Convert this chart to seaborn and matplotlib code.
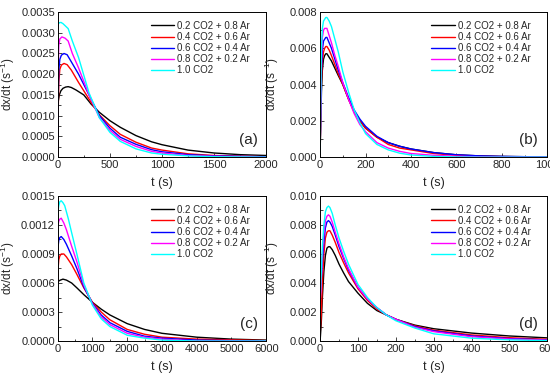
import matplotlib
matplotlib.use("Agg")
import matplotlib.pyplot as plt
import seaborn as sns
from matplotlib.ticker import AutoMinorLocator

sns.set_style("ticks")
plt.rcParams["font.family"] = ["Liberation Sans", "DejaVu Sans"]
plt.rcParams["mathtext.fontset"] = "custom"
plt.rcParams["mathtext.rm"] = "Liberation Sans"

labels = ["0.2 CO2 + 0.8 Ar", "0.4 CO2 + 0.6 Ar", "0.6 CO2 + 0.4 Ar",
          "0.8 CO2 + 0.2 Ar", "1.0 CO2"]
colors = ["black", "red", "blue", "magenta", "cyan"]

# panel (a)
ta_black = [0, 5, 15, 30, 50, 75, 100, 130, 175, 250, 320, 400, 500, 600, 750, 900, 1000, 1250, 1500, 1750, 2000]
ya_black = [0.0012, 0.00135, 0.0015, 0.0016, 0.00166, 0.00169, 0.0017, 0.00168, 0.00162, 0.0015, 0.00128,
            0.00108, 0.00088, 0.00072, 0.00052, 0.00037, 0.0003, 0.00017, 0.0001, 0.00006, 0.00004]
ta_red = [0, 5, 10, 20, 35, 60, 90, 130, 200, 300, 400, 500, 600, 750, 900, 1000, 1250, 1500, 2000]
ya_red = [0.0, 0.0012, 0.0018, 0.00212, 0.00222, 0.00226, 0.00223, 0.0021, 0.0018, 0.0014, 0.00102,
          0.00076, 0.00055, 0.00036, 0.00022, 0.00017, 0.00008, 0.00004, 0.00001]
ta_blue = [0, 5, 10, 20, 35, 60, 90, 130, 200, 300, 400, 500, 600, 750, 900, 1000, 1250, 1500, 2000]
ya_blue = [0.0002, 0.0015, 0.0021, 0.00236, 0.00246, 0.0025, 0.00247, 0.0023, 0.002, 0.0015, 0.001,
           0.0007, 0.00048, 0.00031, 0.00018, 0.00013, 0.00006, 0.00003, 0.00001]
ta_mag = [0, 5, 10, 20, 40, 70, 100, 140, 200, 300, 400, 500, 600, 750, 900, 1000, 1250, 1500, 2000]
ya_mag = [0.0, 0.0022, 0.0027, 0.00285, 0.0029, 0.00287, 0.0028, 0.0025, 0.00215, 0.0015, 0.00095,
          0.00065, 0.00043, 0.00026, 0.00014, 0.0001, 0.00004, 0.00002, 0.0]
ta_cyan = [0, 15, 30, 50, 75, 100, 140, 200, 300, 400, 500, 600, 750, 900, 1000, 1250, 1500, 2000]
ya_cyan = [0.0032, 0.00324, 0.00325, 0.00322, 0.00316, 0.0031, 0.0028, 0.0024, 0.00155, 0.00095, 0.0006,
           0.00038, 0.0002, 0.0001, 0.00007, 0.00003, 0.00001, 0.0]

# panel (b)
tb = [0, 3, 6, 10, 15, 20, 25, 30, 40, 50, 65, 80, 100, 125, 150, 175, 200, 250, 300, 350, 400, 500, 600, 700, 800, 1000]
yb_black = [0.0002, 0.002, 0.0036, 0.0048, 0.0054, 0.0056, 0.0057, 0.0057, 0.0055, 0.0053, 0.0049, 0.0045,
            0.004, 0.0032, 0.0025, 0.002, 0.0016, 0.0011, 0.0008, 0.0006, 0.00045, 0.00025, 0.00013, 0.00007,
            0.00004, 0.00001]
yb_red = [0.0002, 0.0024, 0.0042, 0.0053, 0.0058, 0.006, 0.0061, 0.0061, 0.0059, 0.0056, 0.0051, 0.0046,
          0.004, 0.0032, 0.0025, 0.002, 0.0016, 0.0011, 0.0007, 0.0005, 0.0004, 0.0002, 0.0001, 0.00005,
          0.00003, 0.00001]
yb_blue = [0.0002, 0.0028, 0.0048, 0.0059, 0.0064, 0.0065, 0.0066, 0.0066, 0.0063, 0.006, 0.0054, 0.0048,
           0.0041, 0.0033, 0.0026, 0.0021, 0.0017, 0.00115, 0.0008, 0.0006, 0.00045, 0.00025, 0.00013,
           0.00007, 0.00004, 0.00001]
yb_mag = [0.0002, 0.0032, 0.0055, 0.0066, 0.007, 0.0071, 0.0071, 0.0071, 0.0067, 0.0063, 0.0056, 0.005,
          0.0041, 0.0032, 0.0024, 0.0018, 0.0014, 0.0008, 0.0005, 0.00032, 0.0002, 0.0001, 0.00005,
          0.00002, 0.00001, 0.0]
yb_cyan = [0.0002, 0.0035, 0.006, 0.0071, 0.0075, 0.0076, 0.0077, 0.0077, 0.0075, 0.0072, 0.0065, 0.0058,
           0.0047, 0.0036, 0.0026, 0.0019, 0.0013, 0.0007, 0.0004, 0.00022, 0.00012, 0.00004, 0.00001,
           0.0, 0.0, 0.0]

# panel (c)
tc_black = [0, 25, 75, 150, 250, 400, 550, 750, 1000, 1250, 1500, 2000, 2500, 3000, 3500, 4000, 5000, 6000]
yc_black = [0.0006, 0.00062, 0.00063, 0.00064, 0.00063, 0.0006, 0.00055, 0.00048, 0.0004, 0.00033, 0.00027,
            0.00018, 0.00012, 0.00008, 0.00006, 0.00004, 0.00002, 0.00001]
tc_red = [0, 10, 30, 60, 100, 175, 250, 400, 550, 750, 1000, 1250, 1500, 2000, 2500, 3000, 4000, 6000]
yc_red = [0.0006, 0.00075, 0.00084, 0.00088, 0.0009, 0.0009, 0.00087, 0.00079, 0.00069, 0.00055, 0.0004,
          0.0003, 0.00022, 0.00012, 0.00007, 0.00004, 0.00002, 0.000005]
tc_blue = [0, 10, 30, 60, 100, 175, 250, 400, 550, 750, 1000, 1250, 1500, 2000, 2500, 3000, 4000, 6000]
yc_blue = [0.0009, 0.00098, 0.00104, 0.00107, 0.00108, 0.00105, 0.001, 0.00088, 0.00075, 0.00056, 0.00039,
           0.00027, 0.00019, 0.0001, 0.00005, 0.00003, 0.00001, 0.0]
tc_mag = [0, 10, 30, 60, 100, 175, 250, 400, 550, 750, 1000, 1250, 1500, 2000, 2500, 3000, 4000, 6000]
yc_mag = [0.00115, 0.0012, 0.00124, 0.00126, 0.00127, 0.00122, 0.00115, 0.00098, 0.00082, 0.00058, 0.00038,
          0.00025, 0.00017, 0.00008, 0.00004, 0.00002, 0.0, 0.0]
tc_cyan = [0, 10, 30, 60, 100, 150, 200, 300, 400, 550, 750, 1000, 1250, 1500, 2000, 2500, 3000, 4000, 6000]
yc_cyan = [0.0013, 0.00135, 0.0014, 0.00144, 0.00145, 0.00143, 0.0014, 0.00127, 0.00112, 0.0009, 0.0006,
           0.00037, 0.00023, 0.00015, 0.00006, 0.00003, 0.00001, 0.0, 0.0]

# panel (d)
td = [0, 3, 6, 10, 14, 18, 22, 26, 32, 40, 50, 62, 75, 100, 125, 150, 175, 200, 250, 300, 400, 500, 600]
yd_black = [0.0, 0.0012, 0.003, 0.0048, 0.0059, 0.0064, 0.0065, 0.0065, 0.0063, 0.0059, 0.0053, 0.0047,
            0.0041, 0.0033, 0.0026, 0.0021, 0.0018, 0.0015, 0.0011, 0.00085, 0.00055, 0.00035, 0.00022]
yd_red = [0.0004, 0.0018, 0.004, 0.006, 0.0071, 0.0075, 0.0076, 0.0076, 0.0073, 0.0068, 0.0061, 0.0054,
          0.0047, 0.0036, 0.0028, 0.0022, 0.0018, 0.0015, 0.00105, 0.00075, 0.00042, 0.00023, 0.00012]
yd_blue = [0.003, 0.0042, 0.0055, 0.0068, 0.0078, 0.0082, 0.0083, 0.0082, 0.0079, 0.0073, 0.0065, 0.0057,
           0.0049, 0.0037, 0.0029, 0.0023, 0.0018, 0.0015, 0.001, 0.0007, 0.00035, 0.00017, 0.00008]
yd_mag = [0.0026, 0.0042, 0.006, 0.0074, 0.0083, 0.0086, 0.0087, 0.0086, 0.0082, 0.0075, 0.0067, 0.0058,
          0.005, 0.0037, 0.0029, 0.0023, 0.0018, 0.0015, 0.00095, 0.00065, 0.0003, 0.00014, 0.00006]
yd_cyan = [0.003, 0.0046, 0.0065, 0.008, 0.0089, 0.0092, 0.0093, 0.0092, 0.0088, 0.008, 0.0071, 0.0062,
           0.0053, 0.0039, 0.003, 0.0023, 0.0018, 0.0014, 0.0009, 0.0005, 0.0002, 0.00008, 0.00003]

panels = [
    ("(a)", [(ta_black, ya_black), (ta_red, ya_red), (ta_blue, ya_blue), (ta_mag, ya_mag), (ta_cyan, ya_cyan)],
     (0, 2000), [0, 500, 1000, 1500, 2000], (0, 0.0035), [0, 0.0005, 0.001, 0.0015, 0.002, 0.0025, 0.003, 0.0035], "%.4f"),
    ("(b)", [(tb, yb_black), (tb, yb_red), (tb, yb_blue), (tb, yb_mag), (tb, yb_cyan)],
     (0, 1000), [0, 200, 400, 600, 800, 1000], (0, 0.008), [0, 0.002, 0.004, 0.006, 0.008], "%.3f"),
    ("(c)", [(tc_black, yc_black), (tc_red, yc_red), (tc_blue, yc_blue), (tc_mag, yc_mag), (tc_cyan, yc_cyan)],
     (0, 6000), [0, 1000, 2000, 3000, 4000, 5000, 6000], (0, 0.0015), [0, 0.0003, 0.0006, 0.0009, 0.0012, 0.0015], "%.4f"),
    ("(d)", [(td, yd_black), (td, yd_red), (td, yd_blue), (td, yd_mag), (td, yd_cyan)],
     (0, 600), [0, 100, 200, 300, 400, 500, 600], (0, 0.010), [0, 0.002, 0.004, 0.006, 0.008, 0.010], "%.3f"),
]

positions = [
    [0.105, 0.595, 0.379, 0.374],
    [0.582, 0.595, 0.413, 0.374],
    [0.105, 0.121, 0.379, 0.374],
    [0.582, 0.121, 0.413, 0.374],
]
ylabel_x = [-0.196, -0.17, -0.196, -0.17]

fig = plt.figure(figsize=(5.5, 3.88), dpi=100)

for pos, lx, (tag, series, xlim, xticks, ylim, yticks, fmt) in zip(positions, ylabel_x, panels):
    ax = fig.add_axes(pos)
    for (t, y), lab, c in zip(series, labels, colors):
        sns.lineplot(x=t, y=y, color=c, label=lab, linewidth=1.0, ax=ax)
    ax.set_xlim(*xlim)
    ax.set_ylim(*ylim)
    ax.set_xticks(xticks)
    ax.set_yticks(yticks)
    ax.set_yticklabels([fmt % v for v in yticks])
    ax.xaxis.set_minor_locator(AutoMinorLocator(2))
    ax.yaxis.set_minor_locator(AutoMinorLocator(2))
    ax.tick_params(which="both", direction="in", labelsize=8, pad=2)
    ax.tick_params(which="major", length=3, width=0.6)
    ax.tick_params(which="minor", length=1.8, width=0.6)
    for s in ax.spines.values():
        s.set_linewidth(0.7)
        s.set_color("black")
    ax.set_xlabel("t (s)", fontsize=9, labelpad=5)
    ax.set_ylabel("dx/dt (s$^{-1}$)", fontsize=8.5)
    ax.yaxis.set_label_coords(lx, 0.5)
    ax.legend(loc="upper right", frameon=False, fontsize=7, handlelength=2.4,
              handletextpad=0.3, labelspacing=0.12, borderaxespad=0.5,
              bbox_to_anchor=(0.965, 1.0))
    ax.text(0.96, 0.12, tag, transform=ax.transAxes, ha="right", va="center", fontsize=11)

fig.savefig("out.png", dpi=100)
